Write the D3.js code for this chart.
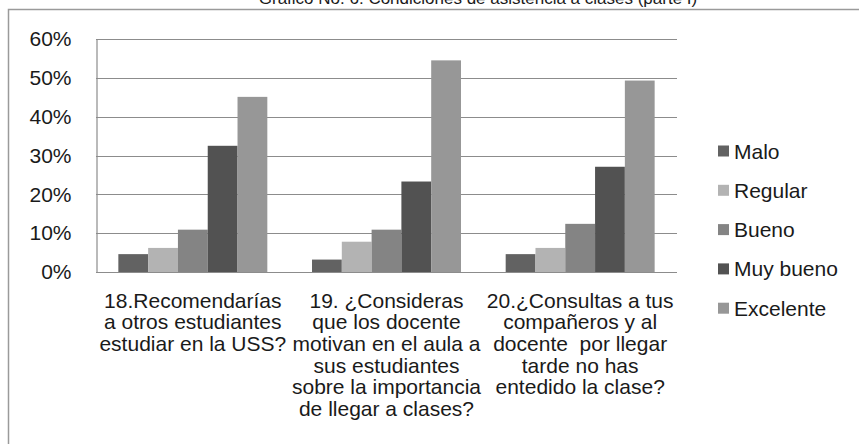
<!DOCTYPE html>
<html>
<head>
<meta charset="utf-8">
<script src="https://cdn.jsdelivr.net/npm/d3@7"></script>
<style>
  body { margin: 0; background: #fff; }
  text { font-family: "Liberation Sans", Arial, sans-serif; fill: #1a1a1a; }
</style>
</head>
<body>
<div id="chart"></div>
<script>
// data
var title = "Gráfico No. 6: Condiciones de asistencia a clases (parte I)";
var categories = ["P18", "P19", "P20"];
var categoryLines = [
  ["18.Recomendarías", "a otros estudiantes", "estudiar en la USS?"],
  ["19. ¿Consideras", "que los docente", "motivan en el aula a", "sus estudiantes", "sobre la importancia", "de llegar a clases?"],
  ["20.¿Consultas a tus", "compañeros y al", "docente  por llegar", "tarde no has", "entedido la clase?"]
];
var series = ["Malo", "Regular", "Bueno", "Muy bueno", "Excelente"];
var malo = [0.046, 0.032, 0.046];
var regular = [0.062, 0.078, 0.062];
var bueno = [0.109, 0.109, 0.124];
var muyBueno = [0.325, 0.233, 0.271];
var excelente = [0.451, 0.545, 0.493];
var yTicks = [0, 0.1, 0.2, 0.3, 0.4, 0.5, 0.6];

var values = [malo, regular, bueno, muyBueno, excelente];
var colors = ["#626262", "#b3b3b3", "#848484", "#525252", "#979797"];

const w = 859;
const h = 444;
const plot = { left: 96, right: 677, top: 39, bottom: 272 };

var svg = d3.select("#chart")
  .append("svg")
  .attr("width", w)
  .attr("height", h);

// outer frame (only top and left edges show)
svg.append("path")
  .attr("d", "M8.5," + h + "V9.5H" + w)
  .attr("fill", "none")
  .attr("stroke", "#9a9a9a")
  .attr("stroke-width", 1.5);

// title, mostly cut off at the top
svg.append("text")
  .attr("x", 478)
  .attr("y", 4)
  .attr("text-anchor", "middle")
  .style("font-size", "17px")
  .text(title);

var y = d3.scaleLinear()
  .domain([0, 0.6])
  .range([plot.bottom, plot.top]);

// gap width 150% like the original chart
var x0 = d3.scaleBand()
  .domain(categories)
  .range([plot.left, plot.right])
  .paddingInner(1.5 / 6.5)
  .paddingOuter(0.75 / 6.5);

var x1 = d3.scaleBand()
  .domain(series)
  .range([0, x0.bandwidth()]);

// gridlines
svg.append("g")
  .selectAll("line")
  .data(yTicks)
  .join("line")
  .attr("x1", plot.left)
  .attr("x2", plot.right)
  .attr("y1", function (d) { return Math.round(y(d)) + 0.5; })
  .attr("y2", function (d) { return Math.round(y(d)) + 0.5; })
  .attr("stroke", "#8c8c8c")
  .attr("stroke-width", 1.2);

// y axis
var yAxis = svg.append("g")
  .attr("transform", "translate(" + (plot.left + 0.5) + ",0)")
  .call(d3.axisLeft(y).tickValues(yTicks).tickFormat(d3.format(".0%")).tickSize(0).tickPadding(25));
yAxis.select(".domain").attr("stroke", "#8c8c8c").attr("stroke-width", 1.2);
yAxis.selectAll("text")
  .style("font-size", "21px")
  .attr("fill", "#1a1a1a");

// bars
var groups = svg.append("g")
  .selectAll("g")
  .data(categories)
  .join("g")
  .attr("transform", function (d) { return "translate(" + x0(d) + ",0)"; });

groups.selectAll("rect")
  .data(function (d, i) {
    return series.map(function (s, j) { return { s: s, v: values[j][i], c: colors[j] }; });
  })
  .join("rect")
  .attr("x", function (d) { return x1(d.s); })
  .attr("y", function (d) { return y(d.v); })
  .attr("width", x1.bandwidth())
  .attr("height", function (d) { return plot.bottom - y(d.v); })
  .attr("fill", function (d) { return d.c; });

// x axis line
svg.append("line")
  .attr("x1", plot.left)
  .attr("x2", plot.right)
  .attr("y1", plot.bottom + 0.5)
  .attr("y2", plot.bottom + 0.5)
  .attr("stroke", "#8c8c8c")
  .attr("stroke-width", 1.2);

// category labels
svg.append("g")
  .selectAll("text")
  .data(categories)
  .join("text")
  .attr("text-anchor", "middle")
  .attr("xml:space", "preserve")
  .style("font-size", "21px")
  .each(function (d, i) {
    var cx = x0(d) + x0.bandwidth() / 2;
    d3.select(this).selectAll("tspan")
      .data(categoryLines[i])
      .join("tspan")
      .attr("x", cx)
      .attr("y", function (l, k) { return 307.5 + k * 21.7; })
      .text(function (l) { return l; });
  });

// legend
var legend = svg.append("g")
  .selectAll("g")
  .data(series)
  .join("g")
  .attr("transform", function (d, i) { return "translate(718," + (151 + i * 39.3) + ")"; });

legend.append("rect")
  .attr("x", 0)
  .attr("y", -5.5)
  .attr("width", 11)
  .attr("height", 11)
  .attr("fill", function (d, i) { return colors[i]; });

legend.append("text")
  .attr("x", 16)
  .attr("y", 7.5)
  .style("font-size", "21px")
  .text(function (d) { return d; });
</script>
</body>
</html>
